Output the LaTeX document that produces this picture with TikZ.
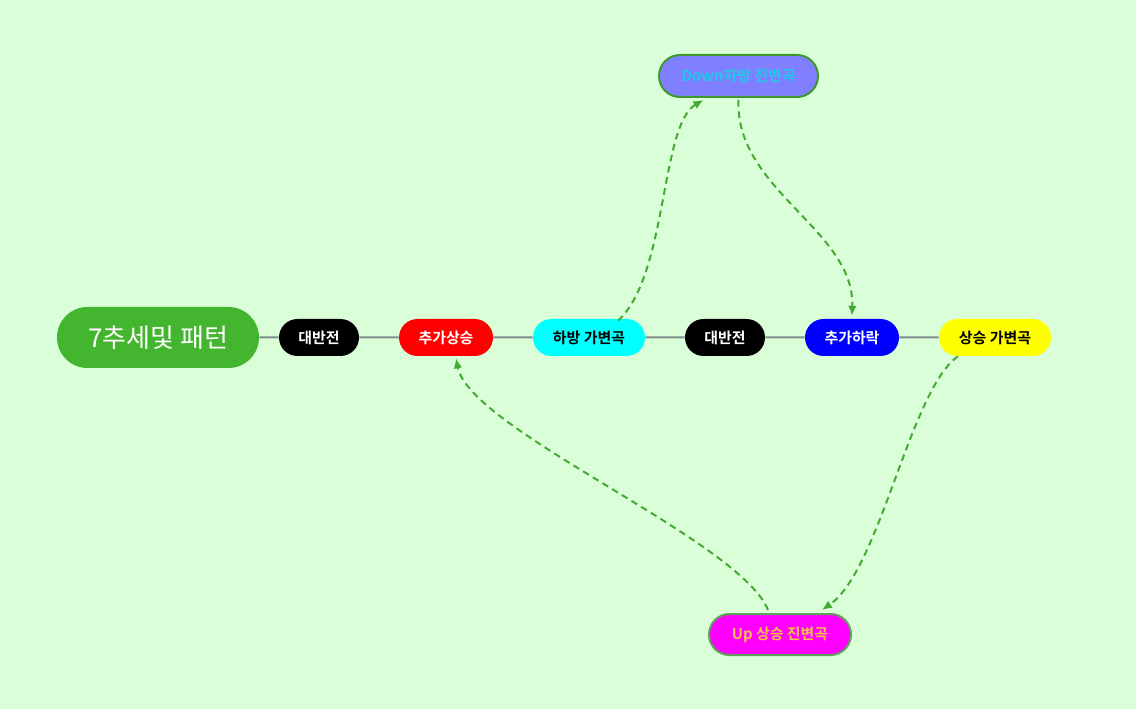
\documentclass[tikz,border=0pt]{standalone}
\usepackage{fontspec}
\newfontfamily\kr{Noto Sans CJK KR}
\newfontfamily\krb{Noto Sans CJK KR Bold}
\usetikzlibrary{shapes.misc,arrows.meta,calc}
\definecolor{bg}{HTML}{DAFFD8}
\definecolor{rootgreen}{HTML}{44B52E}
\definecolor{linkgrey}{HTML}{7F8C8D}
\definecolor{dashgreen}{HTML}{44AA33}
\definecolor{downfill}{HTML}{7F7FFF}
\definecolor{downtext}{HTML}{22C8E8}
\definecolor{uptext}{HTML}{F5C04A}
\definecolor{upborder}{HTML}{5FA05A}
\definecolor{pcyan}{HTML}{00FFFF}
\definecolor{pmagenta}{HTML}{FF00FF}
\definecolor{pyellow}{HTML}{FFFF00}
\definecolor{pred}{HTML}{FF0000}
\definecolor{pblue}{HTML}{0000FF}
\begin{document}
\begin{tikzpicture}[x=0.75pt,y=-0.75pt,
  pill/.style={rounded rectangle, inner sep=0pt, minimum height=37*0.75pt, font=\krb\fontsize{11.2}{13}\selectfont},
  link/.style={draw=linkgrey, line width=1.5pt},
  jump/.style={draw=dashgreen, line width=1.5pt, dash pattern=on 5pt off 3.5pt, -{Latex[length=7.5pt,width=6.5pt]}}]
\fill[bg] (0,0) rectangle (1136,709);
\useasboundingbox (0,0) rectangle (1136,709);

\node[rounded rectangle, fill=rootgreen, text=white, minimum width=202*0.75pt, minimum height=61*0.75pt, inner sep=0pt, font=\kr\fontsize{19.5}{23}\selectfont] (root) at (158,337.5) {7추세및 패턴};
\node[pill, fill=black, text=white, minimum width=80*0.75pt] (r1) at (319,337.5) {대반전};
\node[pill, fill=pred, text=white, minimum width=94*0.75pt] (up1) at (446,337.5) {추가상승};
\node[pill, fill=pcyan, text=black, minimum width=112*0.75pt] (hb) at (589,337.5) {하방 가변곡};
\node[pill, fill=black, text=white, minimum width=80*0.75pt] (r2) at (725,337.5) {대반전};
\node[pill, fill=pblue, text=white, minimum width=94*0.75pt] (dn1) at (852,337.5) {추가하락};
\node[pill, fill=pyellow, text=black, minimum width=112*0.75pt] (sb) at (995,337.5) {상승 가변곡};

\node[pill, fill=downfill, text=downtext, draw=dashgreen!90!black, line width=1.5pt, minimum width=159*0.75pt, minimum height=42*0.75pt] (down) at (738.5,76) {Down하방 진변곡};
\node[pill, fill=pmagenta, text=uptext, draw=upborder, line width=1.5pt, minimum width=142*0.75pt, minimum height=41*0.75pt] (upn) at (780,634.5) {Up 상승 진변곡};

\draw[link] (root) -- (r1);
\draw[link] (r1) -- (up1);
\draw[link] (up1) -- (hb);
\draw[link] (hb) -- (r2);
\draw[link] (r2) -- (dn1);
\draw[link] (dn1) -- (sb);

\coordinate (s1) at ($(hb.north)+(29,2)$);
\coordinate (e1) at ($(down.south)+(-35,2)$);
\coordinate (s2) at ($(down.south)+(0,2)$);
\coordinate (e2) at ($(dn1.north)+(0,-3)$);
\coordinate (s3) at ($(sb.south)+(-37,0)$);
\coordinate (e3) at ($(upn.north)+(42,-3)$);
\coordinate (s4) at ($(upn.north)+(-12,-3)$);
\coordinate (e4) at ($(up1.south)+(10,2)$);

\draw[jump] (s1) .. controls (668,275) and (660,125) .. (e1);
\draw[jump] (s2) .. controls (735,190) and (855,230) .. (e2);
\draw[jump] (s3) .. controls (910,390) and (880,570) .. (e3);
\draw[jump] (s4) .. controls (740,540) and (470,430) .. (e4);
\end{tikzpicture}
\end{document}
